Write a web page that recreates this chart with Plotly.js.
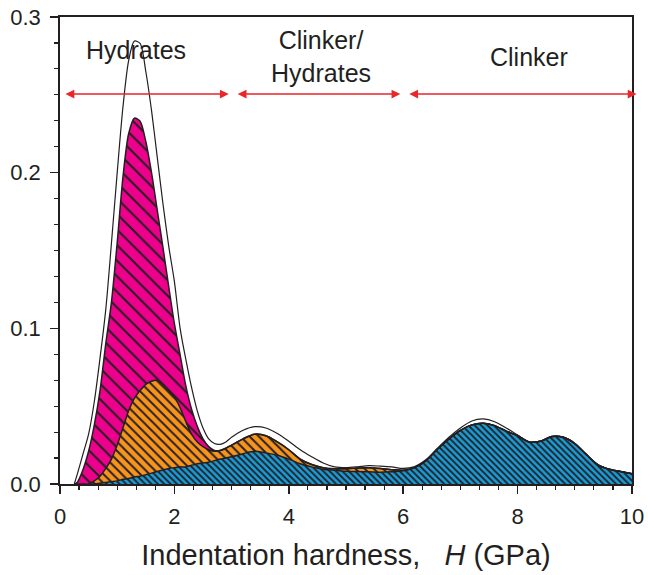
<!DOCTYPE html>
<html>
<head>
<meta charset="utf-8">
<script src="https://cdn.plot.ly/plotly-3.0.1.min.js"></script>
<style>html,body{margin:0;padding:0;background:#fff;}#chart{width:648px;height:575px;}</style>
</head>
<body>
<div id="chart"></div>
<script>
// Indentation hardness H (GPa)
var hardness = [0.25,0.3,0.4,0.5,0.6,0.7,0.8,0.9,1.0,1.1,1.2,1.3,1.4,1.5,1.6,1.7,1.8,1.9,2.0,2.1,2.2,2.3,2.4,2.5,2.6,2.7,2.8,2.9,3.0,
  3.2,3.4,3.6,3.8,4.0,4.2,4.4,4.6,4.8,5.0,5.2,5.4,5.6,5.8,6.0,6.2,6.4,6.6,6.8,7.0,7.2,7.4,7.6,7.8,8.0,8.2,8.4,8.6,8.8,9.0,9.2,9.4,9.6,9.8,10.0];

// Clinker phase (blue, bottom of stack)
var clinkerTop = [0,0,0,0,0,0.0005,0.001,0.0015,0.002,0.003,0.0035,0.0045,0.005,0.006,0.007,0.008,0.009,0.010,0.0105,0.011,0.011,0.012,0.013,0.0135,0.014,0.015,0.016,0.0167,0.0175,
  0.0195,0.021,0.020,0.0185,0.016,0.013,0.011,0.0095,0.0088,0.0082,0.008,0.0078,0.0075,0.0078,0.0085,0.0105,0.015,0.0225,0.029,0.0345,0.038,0.039,0.0375,0.034,0.031,0.027,0.0275,0.0305,0.030,0.026,0.019,0.0125,0.0095,0.008,0.0066];

// Orange phase, stacked on clinker (cumulative top)
var orangeTop = [0,0,0,0,0.002,0.005,0.010,0.016,0.025,0.036,0.047,0.055,0.060,0.064,0.066,0.0665,0.064,0.060,0.056,0.049,0.040,0.032,0.027,0.024,0.022,0.021,0.0215,0.023,0.025,
  0.029,0.032,0.031,0.027,0.022,0.016,0.0125,0.0105,0.0098,0.0098,0.0102,0.0105,0.010,0.0092,0.0088,0.0105,0.015,0.0225,0.029,0.0345,0.038,0.039,0.0375,0.034,0.031,0.027,0.0275,0.0305,0.030,0.026,0.019,0.0125,0.0095,0.008,0.0066];

// Hydrates phase (magenta), stacked on orange (cumulative top)
var hydratesTop = [0,0.001,0.009,0.021,0.038,0.060,0.090,0.117,0.155,0.197,0.225,0.235,0.233,0.220,0.200,0.176,0.152,0.127,0.103,0.083,0.063,0.048,0.037,0.029,0.024,0.0215,0.0215,0.023,0.025,
  0.029,0.032,0.031,0.027,0.022,0.016,0.0125,0.0105,0.0098,0.0098,0.0102,0.0105,0.010,0.0092,0.0088,0.0105,0.015,0.0225,0.029,0.0345,0.038,0.039,0.0375,0.034,0.031,0.027,0.0275,0.0305,0.030,0.026,0.019,0.0125,0.0095,0.008,0.0066];

// Experimental frequency envelope
var envelope = [0,0.006,0.019,0.032,0.053,0.081,0.112,0.155,0.200,0.242,0.272,0.2845,0.283,0.265,0.240,0.210,0.180,0.153,0.130,0.100,0.080,0.062,0.047,0.036,0.029,0.026,0.0255,0.027,0.030,
  0.0345,0.0368,0.036,0.0325,0.0275,0.022,0.0175,0.0135,0.011,0.0105,0.011,0.0118,0.0115,0.011,0.010,0.0112,0.0157,0.023,0.030,0.036,0.0405,0.0418,0.040,0.036,0.0315,0.027,0.0275,0.0305,0.030,0.026,0.019,0.0125,0.0095,0.008,0.0066];

// Region labels and their hardness ranges
var regionLabels = ['Hydrates', 'Clinker/<br>Hydrates', 'Clinker'];
var regionStart = [0, 3, 6];
var regionEnd = [3, 6, 10];

var ink = '#231F20';
var lineShape = {color: ink, width: 1.5, shape: 'spline', smoothing: 0.8};

var traces = [
  {x: hardness, y: clinkerTop, type: 'scatter', mode: 'lines', fill: 'tozeroy', line: lineShape,
   fillcolor: '#1A9CD8',
   fillpattern: {shape: '\\', bgcolor: '#1A9CD8', fgcolor: ink, size: 4.5, solidity: 0.4},
   hoverinfo: 'skip'},
  {x: hardness, y: orangeTop, type: 'scatter', mode: 'lines', fill: 'tonexty', line: lineShape,
   fillcolor: '#F7941D',
   fillpattern: {shape: '\\', bgcolor: '#F7941D', fgcolor: ink, size: 6.5, solidity: 0.3},
   hoverinfo: 'skip'},
  {x: hardness, y: hydratesTop, type: 'scatter', mode: 'lines', fill: 'tonexty', line: lineShape,
   fillcolor: '#EC008C',
   fillpattern: {shape: '\\', bgcolor: '#EC008C', fgcolor: ink, size: 11, solidity: 0.18},
   hoverinfo: 'skip'},
  {x: hardness, y: envelope, type: 'scatter', mode: 'lines',
   line: {color: ink, width: 1.2, shape: 'spline', smoothing: 0.8}, hoverinfo: 'skip'}
];

var font = 'Liberation Sans, Arial, Helvetica, sans-serif';
var annotations = [];
var arrowY = 0.2505;
var labelY = [0.279, 0.2745, 0.2745];
for (var i = 0; i < regionLabels.length; i++) {
  var x0 = regionStart[i] + (i === 0 ? 0.07 : 0.08);
  var x1 = regionEnd[i] - (i === 2 ? -0.08 : 0.05);
  annotations.push({
    x: x1, y: arrowY, ax: x0, ay: arrowY, xref: 'x', yref: 'y', axref: 'x', ayref: 'y',
    text: '', showarrow: true, arrowside: 'end+start', arrowhead: 2, arrowsize: 1.1,
    arrowwidth: 1.6, arrowcolor: '#E8262B', standoff: 0, startstandoff: 0
  });
  annotations.push({
    x: (regionStart[i] + regionEnd[i]) / 2 + (i === 0 ? -0.17 : (i === 1 ? 0.06 : 0.2)),
    y: labelY[i], xref: 'x', yref: 'y', text: regionLabels[i], showarrow: false,
    font: {family: font, size: 25, color: ink}, align: 'center'
  });
}

var layout = {
  width: 648, height: 575,
  margin: {l: 60, r: 16, t: 17, b: 91},
  paper_bgcolor: '#fff', plot_bgcolor: '#fff',
  showlegend: false,
  font: {family: font, color: ink},
  xaxis: {
    range: [0, 10], dtick: 2, tick0: 0, ticks: 'outside', ticklen: 8, tickwidth: 1.5, tickcolor: ink,
    showline: true, linewidth: 1.8, linecolor: ink, mirror: true, showgrid: false, zeroline: false,
    tickfont: {size: 22, color: ink}, ticklabelstandoff: 4,
    minor: {dtick: 1/3, ticks: 'outside', ticklen: 4, tickwidth: 1.2, tickcolor: ink, showgrid: false},
    title: {text: 'Indentation hardness,   <i>H</i> (GPa)', font: {size: 29, color: ink}, standoff: 16}
  },
  yaxis: {
    range: [0, 0.3], dtick: 0.1, tick0: 0, tickformat: '.1f', ticks: 'outside', ticklen: 8, tickwidth: 1.5, tickcolor: ink,
    showline: true, linewidth: 1.8, linecolor: ink, mirror: true, showgrid: false, zeroline: false,
    tickfont: {size: 22, color: ink}, ticklabelstandoff: 5,
    minor: {dtick: 0.1/6, ticks: 'outside', ticklen: 4, tickwidth: 1.2, tickcolor: ink, showgrid: false}
  },
  annotations: annotations
};

Plotly.newPlot('chart', traces, layout, {displayModeBar: false, staticPlot: true});
</script>
</body>
</html>
